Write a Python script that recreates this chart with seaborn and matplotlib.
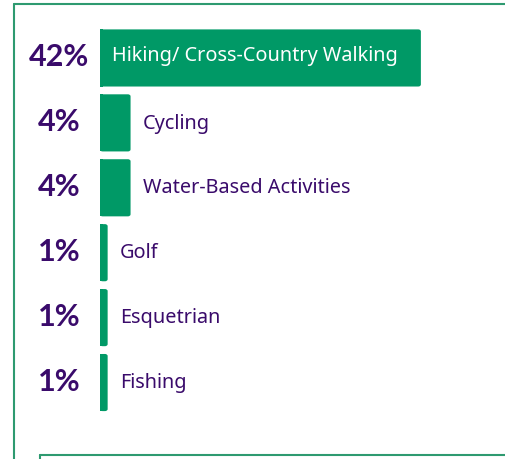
import matplotlib
matplotlib.use("Agg")
import matplotlib.pyplot as plt
import seaborn as sns
import pandas as pd
from matplotlib.patches import Rectangle, FancyBboxPatch
from matplotlib.lines import Line2D

categories = ["Hiking/ Cross-Country Walking", "Cycling", "Water-Based Activities",
              "Golf", "Esquetrian", "Fishing"]
values = [42, 4, 4, 1, 1, 1]
pct_labels = ["42%", "4%", "4%", "1%", "1%", "1%"]

GREEN = "#009966"
PURPLE = "#3a0b6b"

sns.set_theme(style="white")
plt.rcParams["font.family"] = ["Noto Sans", "DejaVu Sans"]

W, H = 506, 459
fig = plt.figure(figsize=(W / 100, H / 100), dpi=100)

# axes placement in pixels
ax_left, ax_right = 100, 482
ax_top, ax_bottom = 25.5, 415
ax = fig.add_axes([ax_left / W, 1 - ax_bottom / H, (ax_right - ax_left) / W, (ax_bottom - ax_top) / H])

df = pd.DataFrame({"category": categories, "value": values})
sns.barplot(data=df, y="category", x="value", orient="h", color=GREEN,
            width=0.88, saturation=1, ax=ax)
ax.set_xlim(0, 50)
ax.set_ylim(5.5, -0.5)
ax.axis("off")

# round the bar corners
for p in list(ax.patches):
    x0, y0 = p.get_x(), p.get_y()
    w, h = p.get_width(), p.get_height()
    p.remove()
    fb = FancyBboxPatch((x0, y0), w, h, boxstyle="round,pad=0,rounding_size=0.35",
                        mutation_aspect=0.09, facecolor=GREEN, edgecolor="none")
    ax.add_patch(fb)
    ax.add_patch(Rectangle((x0, y0), min(w, 0.4), h, facecolor=GREEN, edgecolor="none"))

# labels
px_per_unit = (ax_right - ax_left) / 50.0
off = 12 / px_per_unit
for i, (cat, v, lab) in enumerate(zip(categories, values, pct_labels)):
    ax.text(-41 / px_per_unit, i - 0.01, lab, ha="center", va="center", fontsize=22,
            fontweight="bold", color=PURPLE, clip_on=False, family=["Lato", "DejaVu Sans"])
    if i == 0:
        ax.text(off, i - 0.03, cat, ha="left", va="center", fontsize=14.3, color="white")
    else:
        ax.text(v + off, i + 0.01, cat, ha="left", va="center", fontsize=14.3, color=PURPLE)

# frame lines
LC = "#2e9a70"
fig.add_artist(Line2D([14 / W, 14 / W], [0, 1 - 4 / H], color=LC, lw=1.5))
fig.add_artist(Line2D([14 / W, 1], [1 - 4 / H, 1 - 4 / H], color=LC, lw=1.5))
fig.add_artist(Line2D([40 / W, 40 / W], [0, 1 - 455 / H], color=LC, lw=1.5))
fig.add_artist(Line2D([40 / W, 1], [1 - 455 / H, 1 - 455 / H], color=LC, lw=1.5))

fig.savefig("out.png", dpi=100, facecolor="white")
